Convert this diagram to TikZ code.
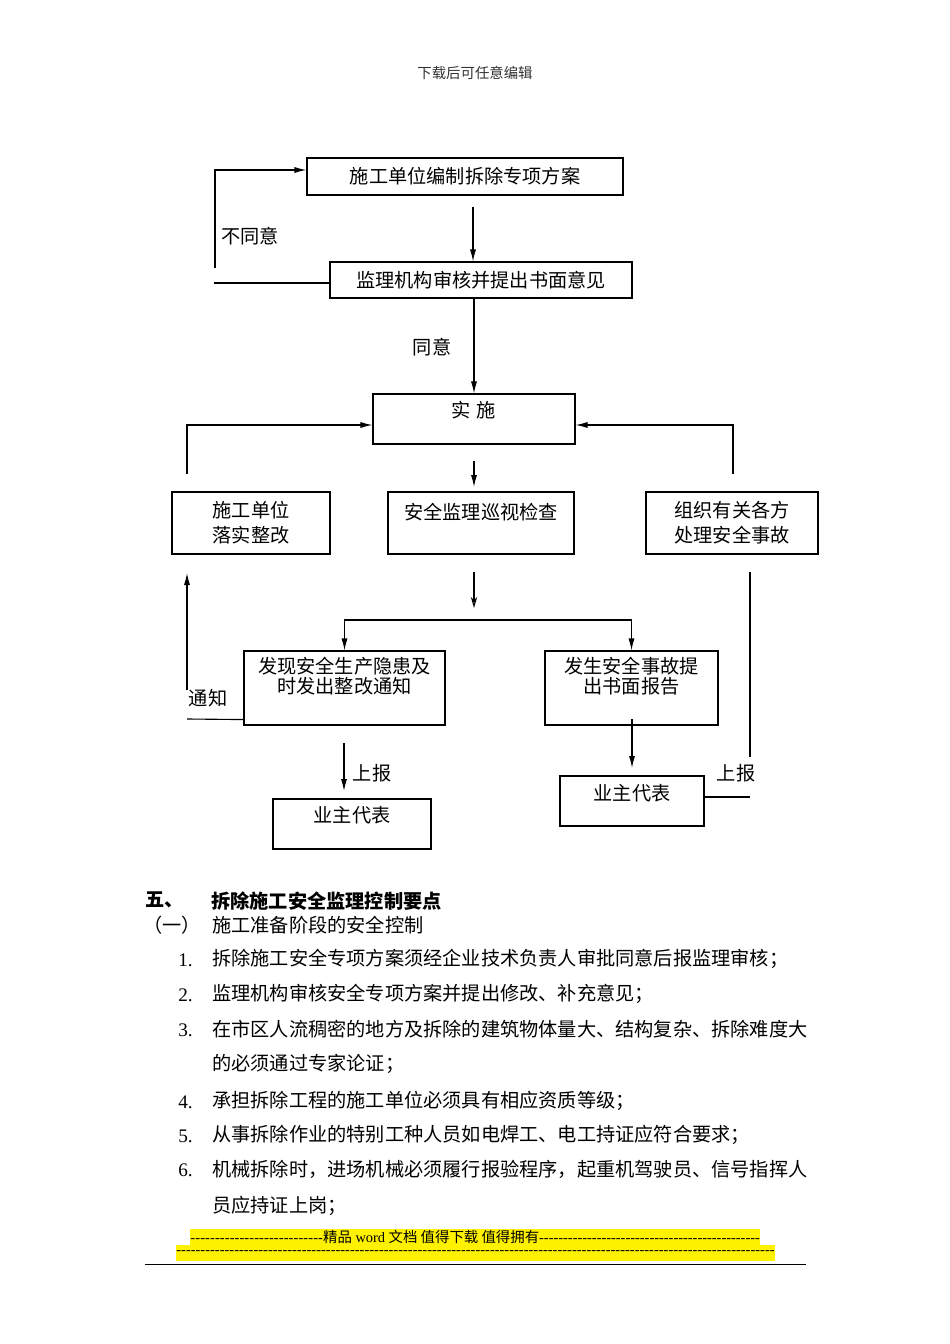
\documentclass[tikz,border=0pt]{standalone}
\usepackage{fontspec}
\setmainfont{Liberation Serif}
\newfontfamily\cjk{Noto Sans CJK SC}
\usetikzlibrary{arrows.meta,calc}
\newcommand\dashrun[1]{\xleaders\hbox{-}\hskip#1\relax}
\begin{document}
\begin{tikzpicture}[x=0.625pt,y=-0.625pt,
  box/.style={draw, line width=0.7pt, inner sep=0pt},
  bx/.style 2 args={minimum width=#1*0.625pt, minimum height=#2*0.625pt},
  lbl/.style={font=\cjk\fontsize{12}{15}\selectfont, inner sep=0pt},
  two/.style={align=center, font=\cjk\fontsize{12}{15.6}\selectfont},
  twotight/.style={align=center, font=\cjk\fontsize{12}{12.5}\selectfont},
  ln/.style={line width=0.7pt},
  arr/.style={line width=0.7pt, -{Latex[length=7.5pt,width=3.8pt]}},
  oarr/.style={line width=0.7pt, -{Stealth[open,length=7pt,width=4pt]}},
  body/.style={font=\cjk\fontsize{12}{15}\selectfont, inner sep=0pt, anchor=west},
  num/.style={font=\fontsize{12}{15}\selectfont, inner sep=0pt, anchor=west},
]
\useasboundingbox (0,0) rectangle (950,1344);

% header
\node[lbl, font=\cjk\fontsize{9}{11}\selectfont, text=black!80] (hdr) at (475,73) {下载后可任意编辑};

% boxes
\node[box,bx={316}{37},lbl] (b1) at (465,176.5) {施工单位编制拆除专项方案};
\node[box,bx={302}{36},lbl] (b2) at (481,280) {监理机构审核并提出书面意见};
\node[box,bx={202}{50}] (b3) at (474,419) {};
\node[lbl] (t3) at (474,410) {实\hspace{0.3em}施};
\node[box,bx={158}{62},lbl,two] (b4) at (251,523) {施工单位\\落实整改};
\node[box,bx={186}{62}] (b5) at (481,523) {};
\node[lbl] (t5) at (481,512) {安全监理巡视检查};
\node[box,bx={172}{62},lbl,two] (b6) at (732,523) {组织有关各方\\处理安全事故};
\node[box,bx={201}{74}] (b7) at (344.5,688) {};
\node[lbl,twotight] (t7) at (344.5,676) {发现安全生产隐患及\\时发出整改通知};
\node[box,bx={173}{74}] (b8) at (631.5,688) {};
\node[lbl,twotight] (t8) at (631.5,676) {发生安全事故提\\出书面报告};
\node[box,bx={158}{50}] (b9) at (352,824) {};
\node[lbl] (t9) at (352,815) {业主代表};
\node[box,bx={144}{50}] (b10) at (632,801) {};
\node[lbl] (t10) at (632,793) {业主代表};

% connectors
\coordinate (a1) at (473,207);
\draw[arr] (a1) -- (a1 |- b2.north);
\draw[ln] ($(b2.west)+(0,3)$) -- ++(-115,0);
\coordinate (c1) at (215,268);
\draw[arr] (c1) |- ($(b1.west)+(0,-6.5)$);
\node[lbl] (l1) at (250,236) {不同意};

\draw[arr] (b3.north |- b2.south) -- (b3.north);
\node[lbl] (l2) at (432,347) {同意};

\coordinate (c2) at (187,474);
\draw[arr] (c2) |- ($(b3.west)+(0,6)$);
\coordinate (c3) at (733,474);
\draw[arr] (c3) |- ($(b3.east)+(0,6)$);

\coordinate (a2) at (474,461);
\draw[arr] (a2) -- (474,487);
\coordinate (a3) at (474,572);
\draw[oarr] (a3) -- (474,608);
\coordinate (sp) at (474,620);
\draw[arr] (sp) -| (b7.north);
\draw[arr] (sp) -| (b8.north);

\draw[ln] ($(b7.south west)+(0,-6)$) -- (187,719);
\coordinate (c4) at (187,690);
\draw[arr] (c4) -- (187,573);
\node[lbl] (l3) at (208,698) {通知};

\coordinate (a4) at (344,743);
\draw[arr] (a4) -- (344,791);
\node[lbl] (l4) at (372,773) {上报};

\coordinate (a5) at (632,719);
\draw[arr] (a5) -- (632,768);

\coordinate (c5) at (750,572);
\draw[ln] (c5) -- (750,757);
\draw[ln] ($(b10.east)+(0,-4)$) -- (750,797);
\node[lbl] (l5) at (736,773) {上报};

% section text
\node[body, font=\cjk\bfseries\fontsize{12}{15}\selectfont] (h1) at (145,900) {五、};
\node[body, font=\cjk\bfseries\fontsize{12}{15}\selectfont] (h2) at (211,901) {拆除施工安全监理控制要点};
\node[body] (h3) at (143,925) {（一）};
\node[body] (h4) at (212,925) {施工准备阶段的安全控制};

\node[num] (n1) at (178,960) {1.};
\node[body] (p1) at (212,959) {拆除施工安全专项方案须经企业技术负责人审批同意后报监理审核；};
\node[num] (n2) at (178,995) {2.};
\node[body] (p2) at (212,994) {监理机构审核安全专项方案并提出修改、补充意见；};
\node[num] (n3) at (178,1030) {3.};
\node[body] (p3) at (212,1029) {在市区人流稠密的地方及拆除的建筑物体量大、结构复杂、拆除难度大};
\node[body] (p3b) at (212,1064) {的必须通过专家论证；};
\node[num] (n4) at (178,1102) {4.};
\node[body] (p4) at (212,1101) {承担拆除工程的施工单位必须具有相应资质等级；};
\node[num] (n5) at (178,1136) {5.};
\node[body] (p5) at (212,1135) {从事拆除作业的特别工种人员如电焊工、电工持证应符合要求；};
\node[num] (n6) at (178,1170) {6.};
\node[body] (p6) at (212,1169) {机械拆除时，进场机械必须履行报验程序，起重机驾驶员、信号指挥人};
\node[body] (p6b) at (212,1206) {员应持证上岗；};

% footer
\fill[yellow] (190,1229) rectangle (760,1245);
\fill[yellow] (176,1245) rectangle (775,1261);
\node[inner sep=0pt, anchor=west, font=\fontsize{9}{10}\selectfont] (f1) at (190,1237)
  {\hbox to 356pt{\dashrun{83pt}{\cjk 精品} word {\cjk 文档 值得下载 值得拥有}\xleaders\hbox{-}\hfill}};
\node[inner sep=0pt, anchor=west, font=\fontsize{9}{10}\selectfont] (f2) at (176,1253)
  {\hbox to 374pt{\xleaders\hbox{-}\hfill}};
\draw[line width=0.6pt] (145,1264) -- (806,1264);
\end{tikzpicture}
\end{document}
